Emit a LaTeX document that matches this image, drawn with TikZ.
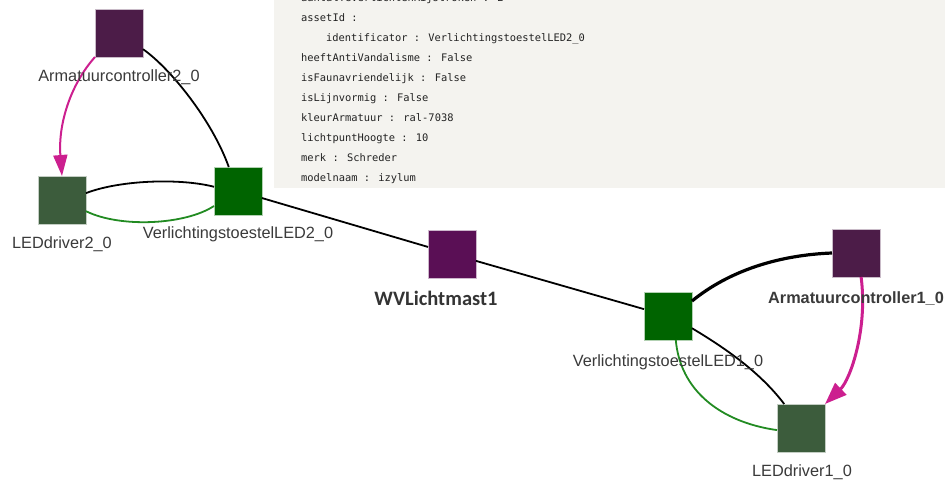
\documentclass[tikz,border=0pt]{standalone}
\usepackage{fontspec}
\usetikzlibrary{arrows.meta}
\setmainfont{Liberation Sans}
\newfontfamily\labfont{Liberation Sans}
\newfontfamily\calfont{Carlito}
\newfontfamily\codefont{DejaVu Sans Mono}
\definecolor{panelbg}{HTML}{F4F3EF}
\definecolor{armcol}{HTML}{4C1C48}
\definecolor{wvcol}{HTML}{5A0F55}
\definecolor{ledcol}{HTML}{3C5C3C}
\definecolor{vlcol}{HTML}{006400}
\definecolor{magcol}{HTML}{CC1F8F}
\definecolor{grncol}{HTML}{228B22}
\definecolor{labcol}{HTML}{3A3A3A}
\definecolor{codecol}{HTML}{222222}
\begin{document}
\begin{tikzpicture}[x=1pt,y=-1pt,
  sq/.style={minimum size=48pt,inner sep=0pt,outer sep=0pt,draw=white!70!#1,line width=0.5pt,fill=#1},
  lab/.style={anchor=base,inner sep=0pt,text=labcol,font=\labfont\fontsize{16.3}{18}\selectfont},
  labb/.style={lab,font=\labfont\bfseries\fontsize{16.3}{18}\selectfont},
  wvlab/.style={anchor=base,inner sep=0pt,text=labcol!90!black,font=\calfont\bfseries\fontsize{20.5}{23}\selectfont},
  codetext/.style={anchor=base west,inner sep=0pt,text=codecol,font=\codefont\fontsize{10.4}{12}\selectfont},
  blk/.style={draw=black,line width=1.8pt},
  blkthick/.style={draw=black,line width=3.2pt},
  grn/.style={draw=grncol,line width=1.8pt},
  magarrow/.style={draw=magcol,line width=2pt,-{Triangle[length=21pt,width=14pt]}},
  magarrowthick/.style={draw=magcol,line width=3pt,-{Triangle[length=22pt,width=16pt]}}
]
\useasboundingbox (0,0) rectangle (945,480);

% info panel
\begin{scope}
\clip (274,0) rectangle (945,188);
\fill[panelbg] (274,0) rectangle (945,188);
\node[codetext] (p0) at (301,1) {aantalTeVerlichtenRijstroken : 2};
\node[codetext] (p1) at (301,21) {assetId :};
\node[codetext] (p2) at (326,41) {identificator : VerlichtingstoestelLED2\_0};
\node[codetext] (p3) at (301,61) {heeftAntiVandalisme : False};
\node[codetext] (p4) at (301,81) {isFaunavriendelijk : False};
\node[codetext] (p5) at (301,101) {isLijnvormig : False};
\node[codetext] (p6) at (301,121) {kleurArmatuur : ral-7038};
\node[codetext] (p7) at (301,141) {lichtpuntHoogte : 10};
\node[codetext] (p8) at (301,161) {merk : Schreder};
\node[codetext] (p9) at (301,181) {modelnaam : izylum};
\end{scope}

% nodes
\node[sq=armcol] (arm2) at (119,33) {};
\node[sq=ledcol] (led2) at (62,200) {};
\node[sq=vlcol] (vl2) at (238,191) {};
\node[sq=wvcol] (wv) at (452,254) {};
\node[sq=vlcol] (vl1) at (668,316) {};
\node[sq=armcol] (arm1) at (856,253) {};
\node[sq=ledcol] (led1) at (801,428) {};

% edges
\draw[blk] (vl2) -- (wv);
\draw[blk] (wv) -- (vl1);
\draw[magarrow] (arm2.south west) .. controls (70,85) and (58,125) .. (led2.north);
\draw[blk] (arm2.-34) .. controls (170,68) and (212,120) .. (vl2.111);
\draw[blk] (led2.16) .. controls (120,180) and (180,178) .. (vl2.170);
\draw[grn] (led2.-25) .. controls (120,228) and (185,225) .. (vl2.212);
\draw[blkthick] (vl1.32) .. controls (730,270) and (780,255) .. (arm1.west);
\draw[blk] (vl1.-27) .. controls (725,348) and (760,372) .. (led1.125);
\draw[grn] (vl1.-72) .. controls (680,390) and (720,422) .. (led1.185);
\draw[magarrowthick] (arm1.-78) .. controls (868,330) and (850,380) .. (led1.north east);

% labels
\node[lab] (arm2lbl) at (119,81) {Armatuurcontroller2\_0};
\node[lab] (led2lbl) at (62,248) {LEDdriver2\_0};
\node[lab] (vl2lbl) at (238,238) {VerlichtingstoestelLED2\_0};
\node[wvlab] (wvlbl) at (436,305) {WVLichtmast1};
\node[lab] (vl1lbl) at (668,366) {VerlichtingstoestelLED1\_0};
\node[labb] (arm1lbl) at (856,303) {Armatuurcontroller1\_0};
\node[lab] (led1lbl) at (802,476) {LEDdriver1\_0};
\end{tikzpicture}
\end{document}
